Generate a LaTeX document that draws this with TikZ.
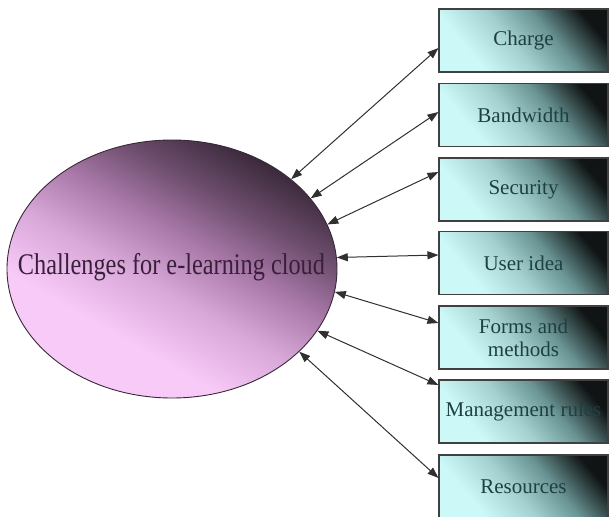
\documentclass[tikz,border=0pt]{standalone}
\usepackage{fontspec}
\setmainfont{Liberation Serif}
\newfontfamily\condserif[FakeStretch=0.81]{Liberation Serif}
\usetikzlibrary{shapes.geometric,arrows.meta,calc}
\definecolor{pinkL}{HTML}{F8CAF8}
\definecolor{pinkA}{HTML}{D8A8D8}
\definecolor{pinkM}{HTML}{A878A8}
\definecolor{pinkN}{HTML}{6E4E6E}
\definecolor{pinkD}{HTML}{382838}
\definecolor{cyanL}{HTML}{CCF8F8}
\definecolor{cyanA}{HTML}{A4D0D0}
\definecolor{cyanM}{HTML}{6A9494}
\definecolor{cyanD}{HTML}{101414}
\definecolor{boxtxt}{HTML}{1E4040}
\definecolor{elltxt}{HTML}{3A1F3A}
\definecolor{linec}{HTML}{303030}
\pgfdeclareverticalshading{boxshade}{100bp}{color(0bp)=(cyanL); color(30bp)=(cyanL); color(46bp)=(cyanA); color(60bp)=(cyanM); color(76bp)=(cyanD); color(100bp)=(cyanD)}
\pgfdeclareverticalshading{ellshade}{100bp}{color(0bp)=(pinkL); color(35bp)=(pinkL); color(46bp)=(pinkA); color(56bp)=(pinkM); color(65bp)=(pinkN); color(75bp)=(pinkD); color(100bp)=(pinkD)}
\tikzset{
  boxnode/.style={rectangle, draw=black!75, line width=1.1pt,
    minimum width=169pt, minimum height=63pt, inner sep=0pt,
    shading=boxshade, shading angle=-50,
    text=boxtxt, font=\fontsize{21}{23}\selectfont, align=center},
  ellnode/.style={ellipse, draw=pinkD, line width=0.9pt,
    minimum width=330pt, minimum height=258pt, inner sep=0pt,
    shading=ellshade, shading angle=-30},
  conn/.style={draw=linec, line width=1pt,
    {Triangle[length=11pt,width=8pt]}-{Triangle[length=11pt,width=8pt]}}
}
\begin{document}
\begin{tikzpicture}[x=1pt,y=-1pt]
\useasboundingbox (0,0) rectangle (611,517);
\node[ellnode] (e) at (172,269) {};
\node[text=elltxt, font=\condserif\fontsize{30}{32}\selectfont, inner sep=0pt] (et) at (171.5,267) {Challenges for e-learning cloud};
\node[boxnode] (b1) at (523.5,40.5) {Charge};
\node[boxnode] (b2) at (523.5,115) {Bandwidth};
\node[boxnode] (b3) at (523.5,189.5) {Security};
\node[boxnode] (b4) at (523.5,263) {User idea};
\node[boxnode] (b5) at (523.5,337.5) {Forms and\\methods};
\node[boxnode] (b6) at (523.5,411.5) {Management rules};
\node[boxnode] (b7) at (523.5,486.5) {Resources};
\coordinate (p1) at ($(b1.west)+(0,7.5)$);
\coordinate (p2) at ($(b2.west)+(0,-3)$);
\coordinate (p3) at ($(b3.west)+(0,-17.5)$);
\coordinate (p4) at ($(b4.west)+(0,-8)$);
\coordinate (p5) at ($(b5.west)+(0,-14.5)$);
\coordinate (p6) at ($(b6.west)+(0,-26.5)$);
\coordinate (p7) at ($(b7.west)+(0,-8.5)$);
\draw[conn] (e.37.8) -- (p1);
\draw[conn] (e.27.9) -- (p2);
\draw[conn] (e.16.4) -- (p3);
\draw[conn] (e.4.8) -- (p4);
\draw[conn] (e.-8.5) -- (p5);
\draw[conn] (e.-23.4) -- (p6);
\draw[conn] (e.-33.9) -- (p7);
\end{tikzpicture}
\end{document}
